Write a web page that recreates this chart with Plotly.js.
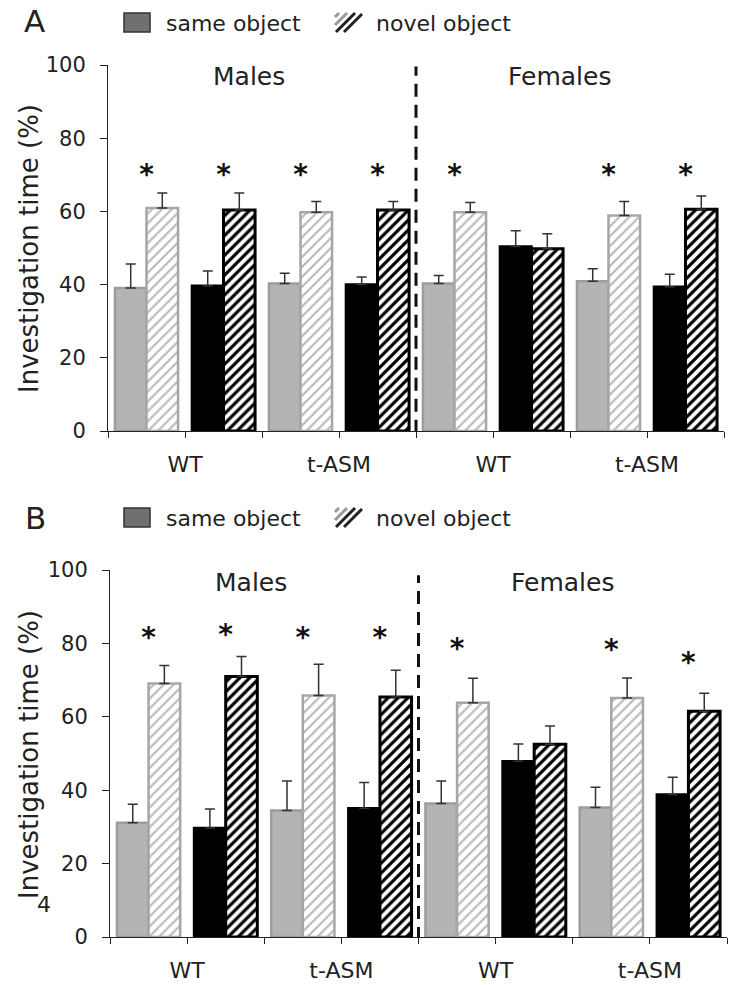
<!DOCTYPE html>
<html>
<head>
<meta charset="utf-8">
<script src="https://cdn.plot.ly/plotly-3.0.1.min.js"></script>
<style>
  body { margin: 0; background: #fff; }
  #grafico { width: 733px; height: 985px; }
</style>
</head>
<body>
<div id="grafico"></div>
<script>
// Datos (porcentaje de tiempo de investigacion)
const sexo = ['Males', 'Males', 'Males', 'Males', 'Females', 'Females', 'Females', 'Females']
const genotipo = ['WT', 'WT', 't-ASM', 't-ASM', 'WT', 'WT', 't-ASM', 't-ASM']
const tono = ['gris', 'negro', 'gris', 'negro', 'gris', 'negro', 'gris', 'negro']
const etiquetasX = ['', 'WT', '', 't-ASM', '', 'WT', '', 't-ASM', '']

// Panel A
const mismoA = [39.1, 39.7, 40.3, 40.0, 40.3, 50.4, 40.9, 39.4]
const errMismoA = [6.5, 4.0, 2.8, 2.1, 2.2, 4.3, 3.4, 3.4]
const novelA = [60.9, 60.4, 59.8, 60.4, 59.8, 49.8, 58.9, 60.6]
const errNovelA = [4.1, 4.6, 2.9, 2.3, 2.6, 4.1, 3.8, 3.6]
const estrellasA = [69.3, 69.3, 69.3, 69.3, 69.3, null, 69.3, 69.3]

// Panel B
const mismoB = [31.1, 29.7, 34.5, 35.1, 36.4, 47.9, 35.3, 38.8]
const errMismoB = [5.1, 5.2, 8.0, 7.0, 6.1, 4.7, 5.5, 4.7]
const novelB = [69.1, 71.0, 65.8, 65.4, 63.8, 52.5, 65.1, 61.5]
const errNovelB = [4.9, 5.4, 8.5, 7.3, 6.7, 5.0, 5.5, 4.9]
const estrellasB = [80.8, 81.7, 80.8, 80.8, 78.0, null, 77.6, 74.1]

const grafico = document.getElementById('grafico')
const W = 733, H = 985
const px = x => x / W
const py = y => 1 - y / H

const posiciones = genotipo.map((_, i) => i)
const limites = etiquetasX.map((_, i) => i - 0.5)

function trazas(mismo, errMismo, novel, errNovel, estrellas, xa, ya) {
    const gris = tono.map(t => t === 'gris')
    return [
        {
            type: 'bar', x: posiciones, y: mismo, xaxis: xa, yaxis: ya, name: 'same object',
            marker: {
                color: gris.map(g => g ? '#b4b4b4' : '#000000'),
                line: { color: gris.map(g => g ? '#9c9c9c' : '#000000'), width: 2.5 }
            },
            error_y: {
                type: 'data', symmetric: false, array: errMismo, arrayminus: errMismo.map(() => 0),
                color: '#333333', thickness: 1.5, width: 5
            },
            hoverinfo: 'skip'
        },
        {
            type: 'bar', x: posiciones, y: novel, xaxis: xa, yaxis: ya, name: 'novel object',
            marker: {
                color: '#ffffff',
                line: { color: gris.map(g => g ? '#a6a6a6' : '#000000'), width: gris.map(g => g ? 2.5 : 3) },
                pattern: {
                    shape: '/', fillmode: 'replace', bgcolor: '#ffffff',
                    fgcolor: gris.map(g => g ? '#b8b8b8' : '#000000'),
                    size: 7, solidity: gris.map(g => g ? 0.3 : 0.45)
                }
            },
            error_y: {
                type: 'data', symmetric: false, array: errNovel, arrayminus: errNovel.map(() => 0),
                color: '#333333', thickness: 1.5, width: 5
            },
            hoverinfo: 'skip'
        },
        {
            type: 'scatter', mode: 'text', x: posiciones, y: estrellas, xaxis: xa, yaxis: ya,
            text: estrellas.map(v => v == null ? '' : '*'),
            textposition: 'middle center',
            textfont: { size: 28, color: '#111111', weight: 'bold' },
            cliponaxis: false, hoverinfo: 'skip'
        }
    ]
}

const datos = [
    ...trazas(mismoA, errMismoA, novelA, errNovelA, estrellasA, 'x', 'y'),
    ...trazas(mismoB, errMismoB, novelB, errNovelB, estrellasB, 'x2', 'y2')
]

function ejeX(dominio, ancla) {
    return {
        domain: dominio, anchor: ancla, range: [-0.5, 7.5],
        tickvals: limites, ticktext: etiquetasX,
        ticks: 'outside', ticklen: 6, tickcolor: '#222', tickwidth: 1,
        showline: true, linecolor: '#222', linewidth: 1,
        showgrid: false, zeroline: false,
        tickfont: { size: 22, color: '#222' }, ticklabelstandoff: 8
    }
}
function ejeY(dominio, ancla) {
    return {
        domain: dominio, anchor: ancla, range: [0, 100], dtick: 20,
        ticks: 'outside', ticklen: 7, tickcolor: '#222', tickwidth: 1,
        showline: true, linecolor: '#222', linewidth: 1,
        showgrid: false, zeroline: false,
        tickfont: { size: 21, color: '#222' }, ticklabelstandoff: 10
    }
}

// Leyenda dibujada a mano (cuadro gris y cuadro rayado)
function leyenda(yTop, yBot) {
    const formas = [
        { type: 'rect', xref: 'paper', yref: 'paper', x0: px(124), x1: px(150), y0: py(yBot), y1: py(yTop),
          fillcolor: '#707070', line: { color: '#333', width: 1.5 } },
        { type: 'rect', xref: 'paper', yref: 'paper', x0: px(335), x1: px(362), y0: py(yBot), y1: py(yTop),
          fillcolor: '#ffffff', line: { width: 0 } }
    ]
    const alto = yBot - yTop
    for (let k = 0; k < 4; k++) {
        const xa = 335 + k * 8
        formas.push({
            type: 'line', xref: 'paper', yref: 'paper',
            x0: px(Math.max(335, xa - alto + 4)), y0: py(Math.min(yBot, yTop + (xa - 335) + 4)),
            x1: px(Math.min(362, xa + 4)), y1: py(yTop + Math.max(0, xa + 4 - 362)),
            line: { color: k < 2 ? '#999' : '#222', width: 3 }
        })
    }
    return formas
}

function nota(texto, x, y, tam, extra) {
    return Object.assign({
        text: texto, xref: 'paper', yref: 'paper', x: px(x), y: py(y),
        xanchor: 'center', yanchor: 'middle', showarrow: false, font: { size: tam }
    }, extra || {})
}

const layout = {
    width: W, height: H,
    margin: { l: 0, r: 0, t: 0, b: 0 },
    paper_bgcolor: '#ffffff', plot_bgcolor: '#ffffff',
    showlegend: false,
    barmode: 'group', bargap: 0.18, bargroupgap: 0,
    font: { family: 'DejaVu Sans, Verdana, sans-serif', color: '#222' },
    xaxis: ejeX([px(108), px(724)], 'y'),
    yaxis: ejeY([py(431), py(65)], 'x'),
    xaxis2: ejeX([px(110), px(727)], 'y2'),
    yaxis2: ejeY([py(937), py(570)], 'x2'),
    shapes: [
        { type: 'line', xref: 'x', yref: 'y', x0: 3.5, x1: 3.5, y0: -0.5, y1: 99.6,
          line: { color: '#111', width: 3, dash: '13px,8px' } },
        { type: 'line', xref: 'x2', yref: 'y2', x0: 3.5, x1: 3.5, y0: -0.8, y1: 98.6,
          line: { color: '#111', width: 3, dash: '13px,8px' } },
        ...leyenda(13, 32),
        ...leyenda(508, 527)
    ],
    annotations: [
        nota('A', 34, 21, 31),
        nota('B', 35, 518, 31),
        nota('same object', 164, 23, 22, { xanchor: 'left' }),
        nota('novel object', 374, 23, 22, { xanchor: 'left' }),
        nota('same object', 164, 518, 22, { xanchor: 'left' }),
        nota('novel object', 374, 518, 22, { xanchor: 'left' }),
        nota('Investigation time (%)', 29, 249, 26, { textangle: -90 }),
        nota('Investigation time (%)', 29, 755, 26, { textangle: -90 }),
        nota('4', 44, 904, 22),
        { text: sexo[0], xref: 'x', yref: 'y', x: 1.33, y: 96.9, showarrow: false, font: { size: 25 } },
        { text: sexo[4], xref: 'x', yref: 'y', x: 5.37, y: 96.9, showarrow: false, font: { size: 25 } },
        { text: sexo[0], xref: 'x2', yref: 'y2', x: 1.33, y: 96.5, showarrow: false, font: { size: 25 } },
        { text: sexo[4], xref: 'x2', yref: 'y2', x: 5.37, y: 96.5, showarrow: false, font: { size: 25 } }
    ]
}

Plotly.newPlot(grafico, datos, layout, { staticPlot: true })
</script>
</body>
</html>
